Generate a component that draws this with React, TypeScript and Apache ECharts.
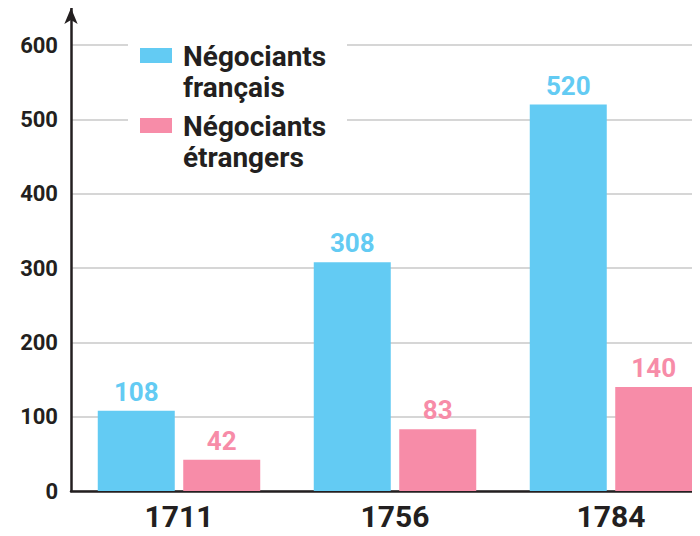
import React, { useEffect, useRef } from "react";
import * as echarts from "echarts";

const categories = ["1711", "1756", "1784"];
const seriesNames = ["Négociants\nfrançais", "Négociants\nétrangers"];
const francais = [108, 308, 520];
const etrangers = [42, 83, 140];
const colors = ["#63cbf3", "#f78ca8"];
const dark = "#231f20";
const font = "Roboto";

export default function App() {
  const ref = useRef<HTMLDivElement>(null);
  useEffect(() => {
    const chart = echarts.init(ref.current!, null, { renderer: "svg" });
    const labelStyle = (c: string) => ({
      show: true,
      position: "top",
      distance: 6,
      color: c,
      fontFamily: font,
      fontWeight: "bold",
      fontSize: 26,
    });
    chart.setOption({
      animation: false,
      backgroundColor: "#ffffff",
      grid: { left: 71, top: 8, bottom: 45, width: 648 },
      xAxis: {
        type: "category",
        data: categories,
        axisLine: { lineStyle: { color: dark, width: 2.5 } },
        axisTick: { show: false },
        axisLabel: {
          color: dark,
          fontFamily: font,
          fontWeight: "bold",
          fontSize: 30,
          margin: 10,
        },
      },
      yAxis: {
        type: "value",
        min: 0,
        max: 650,
        interval: 100,
        axisLine: {
          show: true,
          lineStyle: { color: dark, width: 2.5 },
          symbol: ["none", "arrow"],
          symbolSize: [10, 16],
        },
        axisTick: { show: false },
        axisLabel: {
          showMaxLabel: false,
          color: dark,
          fontFamily: font,
          fontWeight: "bold",
          fontSize: 22,
          margin: 13,
        },
        splitLine: {
          show: true,
          showMaxLine: false,
          lineStyle: { color: "#c8c8c8", width: 1.5 },
        },
      },
      series: [
        {
          name: seriesNames[0],
          type: "bar",
          data: francais,
          barWidth: 77,
          barGap: "11%",
          itemStyle: { color: colors[0] },
          label: labelStyle(colors[0]),
        },
        {
          name: seriesNames[1],
          type: "bar",
          data: etrangers,
          barWidth: 77,
          barGap: "11%",
          itemStyle: { color: colors[1] },
          label: labelStyle(colors[1]),
        },
      ],
      graphic: [
        {
          type: "rect",
          shape: { x: 128, y: 30, width: 219, height: 145 },
          style: { fill: "#ffffff" },
          z: 100,
        },
        {
          type: "rect",
          shape: { x: 140, y: 48, width: 32, height: 15 },
          style: { fill: colors[0] },
          z: 101,
        },
        {
          type: "text",
          x: 183,
          y: 41,
          style: {
            text: seriesNames[0],
            fill: dark,
            font: `bold 28px ${font}`,
            lineHeight: 31,
            textVerticalAlign: "top",
          },
          z: 101,
        },
        {
          type: "rect",
          shape: { x: 140, y: 118, width: 32, height: 15 },
          style: { fill: colors[1] },
          z: 101,
        },
        {
          type: "text",
          x: 183,
          y: 111,
          style: {
            text: seriesNames[1],
            fill: dark,
            font: `bold 28px ${font}`,
            lineHeight: 31,
            textVerticalAlign: "top",
          },
          z: 101,
        },
      ],
    });
    return () => chart.dispose();
  }, []);
  return (
    <div style={{ width: 700, height: 536, margin: -8, overflow: "hidden" }}>
      <div ref={ref} style={{ width: 720, height: 536 }} />
    </div>
  );
}
